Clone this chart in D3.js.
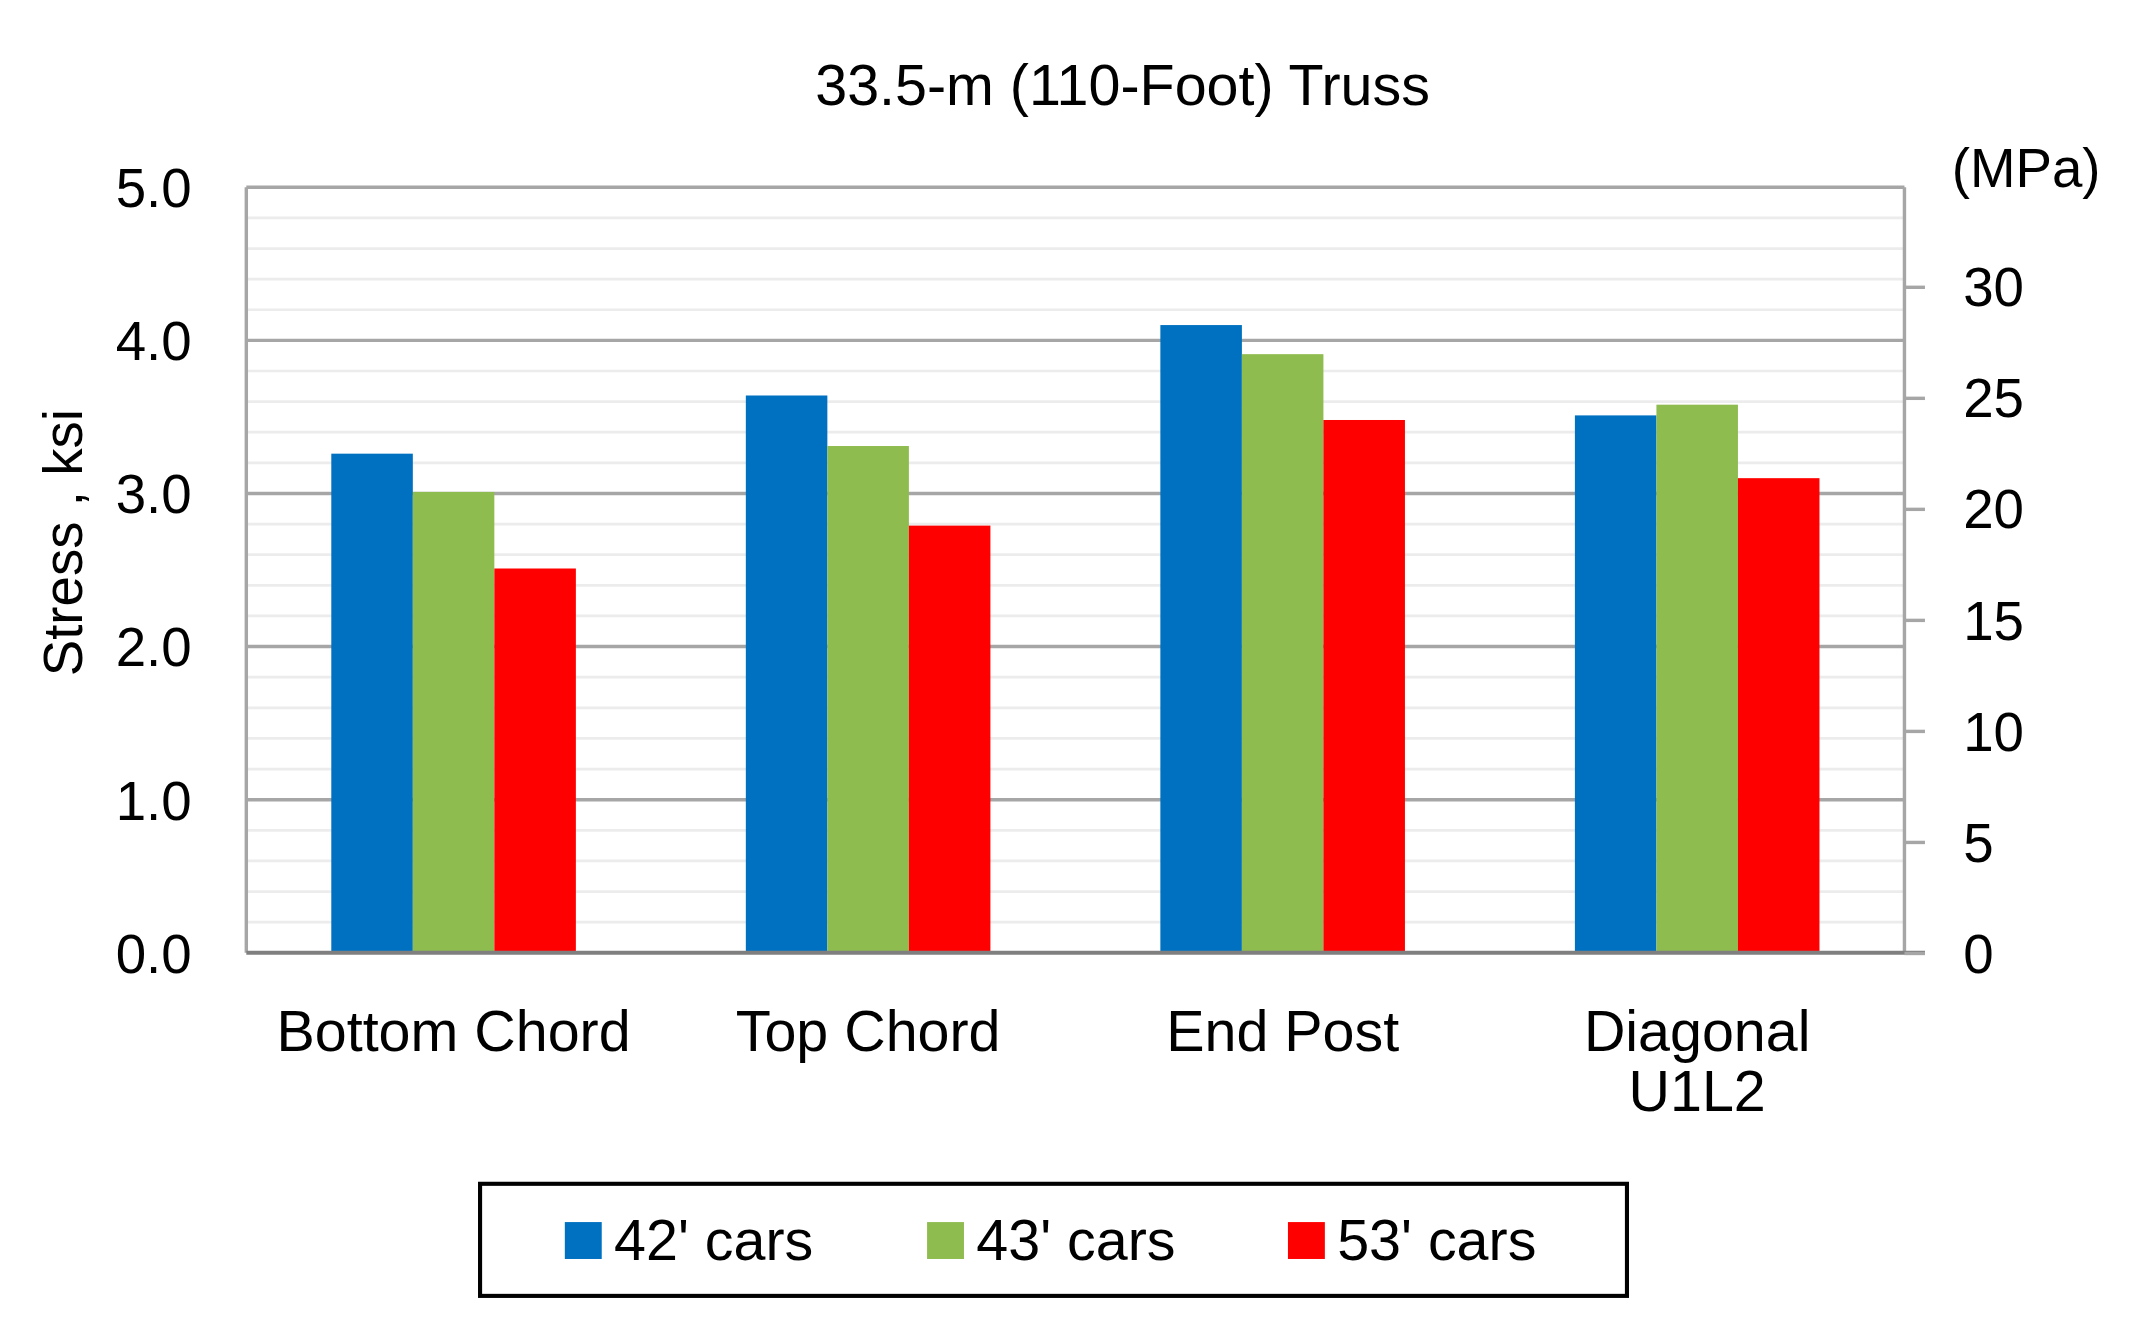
<!DOCTYPE html>
<html>
<head>
<meta charset="utf-8">
<script src="https://cdn.jsdelivr.net/npm/d3@7"></script>
<style>
  body { margin: 0; background: #fff; }
  text { font-family: "Liberation Sans", Arial, sans-serif; fill: #000; }
</style>
</head>
<body>
<div id="chart"></div>
<script>
var categories = ["Bottom Chord", "Top Chord", "End Post", "Diagonal\nU1L2"];
var seriesNames = ["42' cars", "43' cars", "53' cars"];
var seriesColors = ["#0070C0", "#8FBC4F", "#FF0000"];
var cars42 = [3.26, 3.64, 4.10, 3.51];
var cars43 = [3.01, 3.31, 3.91, 3.58];
var cars53 = [2.51, 2.79, 3.48, 3.10];
var ksiTicks = [0, 1, 2, 3, 4, 5];
var mpaTicks = [0, 5, 10, 15, 20, 25, 30];

var series = [cars42, cars43, cars53];

// drawing done in a 1560 x 981 coordinate space, scaled up to the window
var svg = d3.select("#chart").append("svg")
  .attr("width", 2133).attr("height", 1341)
  .attr("viewBox", "0 0 1560 981");

var margin = { left: 180, right: 167, top: 137, bottom: 284 };
var width = 1560 - margin.left - margin.right;
var height = 981 - margin.top - margin.bottom;

var g = svg.append("g").attr("transform", `translate(${margin.left},${margin.top})`);

var y = d3.scaleLinear().domain([0, 5]).range([height, 0]);
var yMpa = d3.scaleLinear().domain([0, 5 * 6.8948]).range([height, 0]);
var x0 = d3.scaleBand().domain(categories).range([0, width]).paddingInner(0.41).paddingOuter(0.205);
var x1 = d3.scaleBand().domain(d3.range(series.length)).range([0, x0.bandwidth()]);

// minor grid
g.selectAll("line.minor").data(d3.range(0, 5.01, 0.2).filter(v => Math.abs(v - Math.round(v)) > 0.01))
  .enter().append("line")
  .attr("x1", 0).attr("x2", width)
  .attr("y1", d => y(d)).attr("y2", d => y(d))
  .attr("stroke", "#ececec").attr("stroke-width", 2);

// major grid
g.selectAll("line.major").data(ksiTicks.slice(1))
  .enter().append("line")
  .attr("x1", 0).attr("x2", width)
  .attr("y1", d => y(d)).attr("y2", d => y(d))
  .attr("stroke", "#a6a6a6").attr("stroke-width", 2.5);

// bars
categories.forEach(function(c, i) {
  series.forEach(function(s, j) {
    g.append("rect")
      .attr("x", x0(c) + x1(j))
      .attr("y", y(s[i]))
      .attr("width", x1.bandwidth())
      .attr("height", height - y(s[i]))
      .attr("fill", seriesColors[j]);
  });
});

// frame
g.append("line").attr("x1", 0).attr("x2", 0).attr("y1", 0).attr("y2", height)
  .attr("stroke", "#a6a6a6").attr("stroke-width", 2.5);
g.append("line").attr("x1", width).attr("x2", width).attr("y1", 0).attr("y2", height)
  .attr("stroke", "#a6a6a6").attr("stroke-width", 2.5);
g.append("line").attr("x1", 0).attr("x2", width + 15).attr("y1", height).attr("y2", height)
  .attr("stroke", "#7f7f7f").attr("stroke-width", 3);

// left axis
var leftAxis = g.append("g").call(d3.axisLeft(y).tickValues(ksiTicks).tickSize(0).tickPadding(40));
leftAxis.select(".domain").remove();
leftAxis.selectAll("text").attr("font-size", 40).attr("dy", "0.35em");

// right axis
var rightAxis = g.append("g").attr("transform", `translate(${width},0)`)
  .call(d3.axisRight(yMpa).tickValues(mpaTicks).tickSize(15).tickPadding(28));
rightAxis.select(".domain").remove();
rightAxis.selectAll("line").attr("stroke", "#a6a6a6").attr("stroke-width", 2.5);
rightAxis.selectAll("text").attr("font-size", 40).attr("dy", "0.35em");

svg.append("text").attr("x", 1482).attr("y", 137).attr("text-anchor", "middle")
  .attr("font-size", 40).text("(MPa)");

// category labels
categories.forEach(function(c) {
  var lines = c.split("\n");
  lines.forEach(function(t, k) {
    g.append("text")
      .attr("x", x0(c) + x0.bandwidth() / 2)
      .attr("y", height + 72 + k * 44)
      .attr("text-anchor", "middle").attr("font-size", 42).text(t);
  });
});

// title
svg.append("text").attr("x", 821).attr("y", 77).attr("text-anchor", "middle")
  .attr("font-size", 42).text("33.5-m (110-Foot) Truss");

// y axis label
svg.append("text").attr("transform", "translate(60,397) rotate(-90)")
  .attr("text-anchor", "middle").attr("font-size", 40).text("Stress , ksi");

// legend
var legend = svg.append("g");
legend.append("rect").attr("x", 351).attr("y", 866).attr("width", 839).attr("height", 82)
  .attr("fill", "#fff").attr("stroke", "#000").attr("stroke-width", 3);
var legX = [413, 678, 942];
seriesNames.forEach(function(n, j) {
  legend.append("rect").attr("x", legX[j]).attr("y", 894).attr("width", 27).attr("height", 27)
    .attr("fill", seriesColors[j]);
  legend.append("text").attr("x", legX[j] + 36).attr("y", 922).attr("font-size", 42).text(n);
});
</script>
</body>
</html>
